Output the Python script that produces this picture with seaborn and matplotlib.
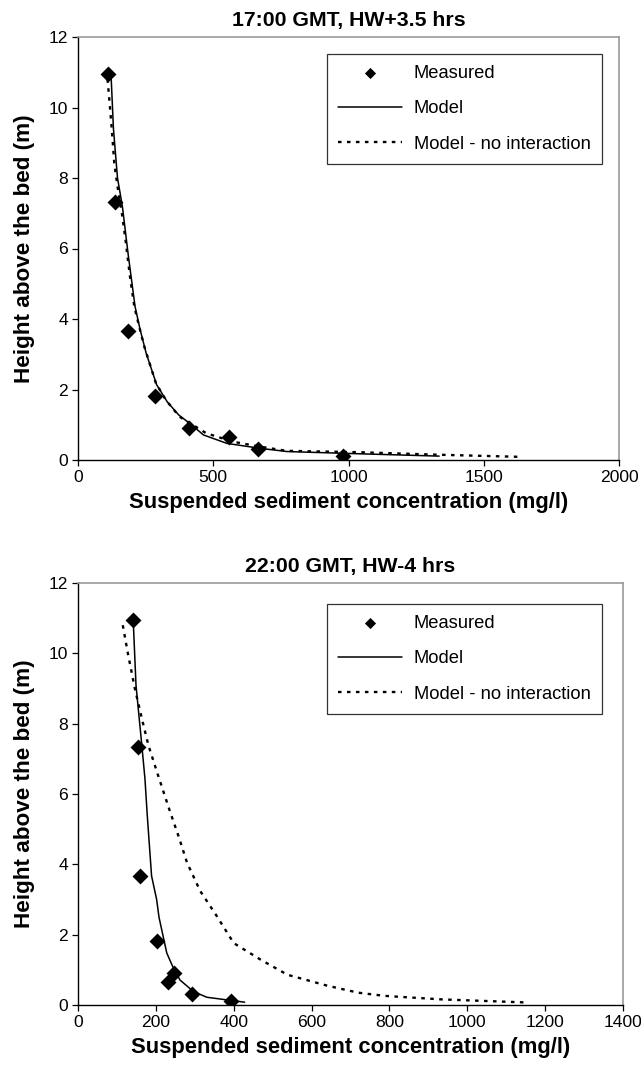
import matplotlib
matplotlib.use("Agg")
import matplotlib.pyplot as plt
import seaborn as sns
import pandas as pd

# ---- data: panel 1 (17:00 GMT) ----
meas_conc_1 = [111, 137, 186, 285, 409, 559, 665, 978]
meas_height_1 = [10.95, 7.33, 3.67, 1.82, 0.92, 0.64, 0.30, 0.11]
model_conc_1 = [122, 131, 146, 164, 186, 211, 230, 252, 291, 330, 372, 421, 464, 551, 674, 773, 982, 1335]
model_height_1 = [10.95, 9.4, 8.0, 7.2, 5.8, 4.35, 3.69, 3.03, 2.13, 1.65, 1.28, 0.99, 0.71, 0.47, 0.33, 0.24, 0.19, 0.11]
noint_conc_1 = [109, 115, 125, 134, 146, 164, 177, 192, 208, 226, 245, 288, 325, 375, 474, 572, 672, 771, 1043, 1330, 1631]
noint_height_1 = [10.8, 10.3, 9.38, 8.43, 7.76, 6.91, 6.16, 5.21, 4.36, 3.79, 3.22, 2.18, 1.70, 1.23, 0.76, 0.52, 0.38, 0.26, 0.22, 0.15, 0.09]

# ---- data: panel 2 (22:00 GMT) ----
meas_conc_2 = [142, 155, 160, 202, 247, 232, 294, 393]
meas_height_2 = [10.95, 7.33, 3.67, 1.82, 0.92, 0.64, 0.30, 0.11]
model_conc_2 = [142, 149, 164, 172, 178, 189, 202, 208, 228, 245, 262, 297, 331, 428]
model_height_2 = [10.9, 9.09, 7.38, 6.43, 5.38, 3.67, 3.0, 2.5, 1.48, 1.05, 0.71, 0.38, 0.22, 0.08]
noint_conc_2 = [115, 129, 146, 165, 181, 206, 237, 258, 280, 314, 357, 400, 469, 538, 640, 720, 787, 933, 1157]
noint_height_2 = [10.8, 9.95, 9.0, 8.1, 7.38, 6.52, 5.48, 4.81, 4.05, 3.24, 2.52, 1.76, 1.29, 0.86, 0.55, 0.35, 0.26, 0.16, 0.07]

titles = ["17:00 GMT, HW+3.5 hrs", "22:00 GMT, HW-4 hrs"]
xlabel = "Suspended sediment concentration (mg/l)"
ylabel = "Height above the bed (m)"
xticks_1 = [0, 500, 1000, 1500, 2000]
xticks_2 = [0, 200, 400, 600, 800, 1000, 1200, 1400]
yticks = [0, 2, 4, 6, 8, 10, 12]
labels = ["Measured", "Model", "Model - no interaction"]

sns.set_theme(style="ticks")
plt.rcParams['font.family'] = ['Liberation Sans', 'DejaVu Sans']
plt.rcParams['text.color'] = 'black'
plt.rcParams['axes.labelcolor'] = 'black'
plt.rcParams['xtick.color'] = 'black'
plt.rcParams['ytick.color'] = 'black'

fig = plt.figure(figsize=(6.41, 10.67), dpi=100)
ax1 = fig.add_axes([78/641, 1-460/1067, 541/641, 423/1067])
ax2 = fig.add_axes([78/641, 1-1005/1067, 545/641, 422/1067])

panels = [
    (ax1, meas_conc_1, meas_height_1, model_conc_1, model_height_1, noint_conc_1, noint_height_1, xticks_1, titles[0], (0.968, 0.96)),
    (ax2, meas_conc_2, meas_height_2, model_conc_2, model_height_2, noint_conc_2, noint_height_2, xticks_2, titles[1], (0.961, 0.95)),
]

for ax, mc, mh, oc, oh, nc, nh, xt, title, anchor in panels:
    dm = pd.DataFrame({"c": mc, "h": mh})
    do = pd.DataFrame({"c": oc, "h": oh})
    dn = pd.DataFrame({"c": nc, "h": nh})
    sns.scatterplot(data=dm, x="c", y="h", ax=ax, marker="D", s=66, color="black",
                    edgecolor="black", linewidth=0, label=labels[0], zorder=5)
    sns.lineplot(data=do, x="c", y="h", ax=ax, sort=False, estimator=None, color="black",
                 linewidth=1.1, label=labels[1], zorder=4)
    sns.lineplot(data=dn, x="c", y="h", ax=ax, sort=False, estimator=None, color="black",
                 linewidth=1.7, linestyle=(0, (1.5, 2.3)), label=labels[2], zorder=3)
    ax.set_xlim(xt[0], xt[-1])
    ax.set_ylim(0, 12)
    ax.set_xticks(xt)
    ax.set_yticks(yticks)
    ax.tick_params(axis="both", labelsize=12.6, length=4, width=0.9, color="black",
                   labelcolor="black", pad=3, direction="out")
    ax.set_xlabel(xlabel, fontsize=15.8, fontweight="bold", labelpad=5, color="black")
    ax.set_ylabel(ylabel, fontsize=16.2, fontweight="bold", labelpad=10, color="black")
    ax.set_title(title, fontsize=15.3, fontweight="bold", pad=8, color="black")
    for side in ["left", "bottom"]:
        ax.spines[side].set_color("black")
        ax.spines[side].set_linewidth(1.0)
    for side in ["top", "right"]:
        ax.spines[side].set_visible(True)
        ax.spines[side].set_color("#999999")
        ax.spines[side].set_linewidth(1.2)
    leg = ax.legend(loc="upper right", bbox_to_anchor=anchor, borderaxespad=0,
                    fontsize=13.2, frameon=True, fancybox=False, edgecolor="black",
                    handlelength=3.5, handletextpad=0.65, labelspacing=1.0,
                    borderpad=0.6, markerscale=0.7)
    leg.get_frame().set_linewidth(0.9)
    for t in leg.get_texts():
        t.set_color("black")

fig.savefig("out.png", dpi=100)
